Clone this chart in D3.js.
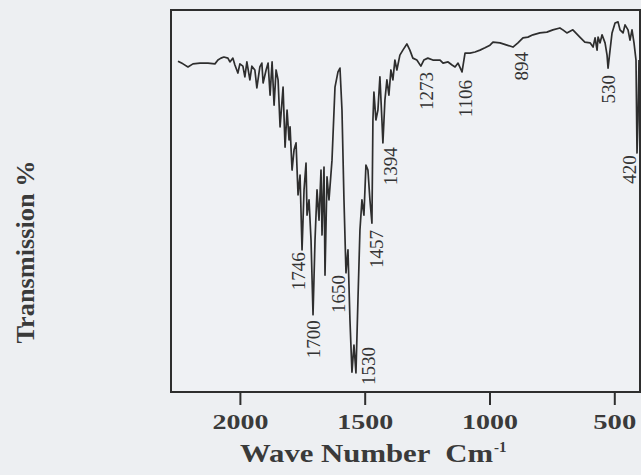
<!DOCTYPE html>
<html>
<head>
<meta charset="utf-8">
<script src="https://cdn.jsdelivr.net/npm/d3@7/dist/d3.min.js"></script>
<style>
  html, body { margin: 0; padding: 0; background: #edeff2; }
  svg { display: block; }
</style>
</head>
<body>
<svg id="chart" width="641" height="475"></svg>
<script>
// ---- Data ----
// Wavenumber (cm^-1) of each traced point
const waveNumbers = [
  2248,2228,2208,2188,2160,2128,2100,2088,2076,2064,2048,2040,2028,2020,2008,2000,
  1988,1980,1972,1960,1952,1940,1932,1920,1912,1907,1895,1887,1879,1871,1863,1855,
  1847,1839,1827,1819,1811,1803,1799,1791,1783,1775,1767,1759,1751,1743,1735,1731,
  1723,1715,1707,1699,1691,1683,1675,1671,1663,1659,1651,1643,1631,1619,1607,1599,
  1591,1583,1575,1567,1559,1551,1543,1535,1527,1519,1511,1503,1495,1487,1479,1471,
  1467,1463,1455,1447,1439,1431,1427,1419,1411,1403,1395,1387,1379,1371,1359,1347,
  1331,1319,1307,1291,1275,1263,1247,1227,1198,1186,1166,1150,1138,1126,1110,1098,
  1078,1058,1038,1018,998,986,958,930,906,886,866,846,826,798,770,746,
  718,706,690,666,638,618,597,585,577,569,565,557,549,537,529,525,
  517,509,497,485,477,465,457,445,437,429,421,413,409,405,401
];
// Transmission (%) at each point
const transmission = [
  86.6,85.9,85.1,85.9,86.1,86.1,85.9,86.9,87.4,87.7,87.4,86.4,87.4,85.6,83.5,85.9,
  85.3,82.5,86.4,81.7,85.3,84.3,79.6,85.1,86.1,80.9,84.3,86.1,77.7,86.4,75.1,84.3,
  81.7,69.4,79.8,64.1,73.8,66.0,69.4,58.1,63.4,65.2,51.6,56.8,37.2,52.9,59.9,46.3,
  50.3,39.8,20.2,39.8,52.9,45.0,58.1,41.1,58.9,30.6,56.3,50.3,60.7,79.8,83.8,84.8,
  73.8,50.3,31.2,37.2,18.8,5.2,12.3,5.0,24.1,42.4,50.3,46.3,59.4,58.1,50.3,44.2,
  71.2,78.5,71.2,73.8,82.5,71.2,65.2,76.4,81.7,77.7,84.3,81.7,86.9,84.3,88.2,89.5,
  91.1,89.5,87.4,86.9,85.3,86.9,87.4,86.9,86.9,86.1,86.4,85.6,85.1,86.1,83.8,88.7,
  88.7,89.0,89.5,90.1,90.8,91.6,91.4,90.8,90.3,91.4,92.7,92.9,93.5,94.0,94.2,94.8,
  95.3,94.8,94.0,94.8,92.9,91.6,91.4,90.3,92.7,89.5,92.9,91.4,93.5,91.4,88.2,84.8,
  89.5,94.0,96.6,96.9,94.8,94.0,96.1,94.8,92.1,94.8,91.4,86.9,62.6,71.2,86.9
];

// Peak annotations: text, wavenumber where the label sits, transmission at label top
const peakLabels = ["1746","1700","1650","1530","1457","1394","1273","1106","894","530","420"];
const peakWave   = [1767, 1707, 1607, 1487, 1455, 1399, 1254, 1098, 874, 525, 441];
const peakTop    = [36.6, 18.8, 30.6, 11.8, 42.4, 64.1, 83.8, 81.7, 89.0, 83.0, 62.0];

// Axis
const xTicks = [2000, 1500, 1000, 500];
const xDomain = [2276, 397];
const yDomain = [0, 100];
const xTitle = "Wave Number  Cm";
const xTitleSup = "-1";
const yTitle = "Transmission %";

// ---- Drawing ----
const svg = d3.select("#chart");
const plot = { left: 171, top: 10, right: 640, bottom: 392 };
const ink = "#2e2e2e";

const x = d3.scaleLinear().domain(xDomain).range([plot.left, plot.right]);
const y = d3.scaleLinear().domain(yDomain).range([plot.bottom, plot.top]);

// frame
svg.append("rect")
  .attr("x", plot.left).attr("y", plot.top)
  .attr("width", plot.right - plot.left).attr("height", plot.bottom - plot.top)
  .attr("fill", "#eff1f4").attr("stroke", ink).attr("stroke-width", 2);

// spectrum
const pts = waveNumbers.map((w, i) => [w, transmission[i]]);
const line = d3.line().x(d => x(d[0])).y(d => y(d[1]));
svg.append("path")
  .datum(pts)
  .attr("d", line)
  .attr("fill", "none")
  .attr("stroke", ink)
  .attr("stroke-width", 1.7)
  .attr("stroke-linejoin", "round");

// peak labels
svg.append("g").selectAll("text")
  .data(peakLabels)
  .join("text")
  .attr("transform", (d, i) => `translate(${x(peakWave[i])},${y(peakTop[i])}) rotate(-90)`)
  .attr("text-anchor", "end")
  .attr("dy", "0.35em")
  .attr("font-family", "'Liberation Serif', 'Times New Roman', serif")
  .attr("font-size", 19)
  .attr("fill", "#333")
  .text(d => d);

// x axis
const xAxis = d3.axisBottom(x).tickValues(xTicks).tickSize(13).tickPadding(8).tickFormat(d3.format("d"));
const gx = svg.append("g").attr("transform", `translate(0,${plot.bottom})`).call(xAxis);
gx.select(".domain").remove();
gx.selectAll(".tick line").attr("stroke", ink).attr("stroke-width", 2);
gx.selectAll(".tick text")
  .attr("font-family", "'Liberation Serif', 'Times New Roman', serif")
  .attr("font-weight", "bold")
  .attr("font-size", 22)
  .attr("fill", "#3a3a3a")
  .attr("textLength", 56)
  .attr("lengthAdjust", "spacingAndGlyphs");
gx.selectAll(".tick").filter(d => d === 500).select("text").attr("textLength", 43);

// x title
svg.append("text")
  .attr("x", 240).attr("y", 462)
  .attr("font-family", "'Liberation Serif', 'Times New Roman', serif")
  .attr("font-weight", "bold")
  .attr("font-size", 26)
  .attr("fill", "#3a3a3a")
  .attr("textLength", 253)
  .attr("lengthAdjust", "spacingAndGlyphs")
  .attr("xml:space", "preserve")
  .text(xTitle);
svg.append("text")
  .attr("x", 494).attr("y", 452)
  .attr("font-family", "'Liberation Serif', 'Times New Roman', serif")
  .attr("font-weight", "bold")
  .attr("font-size", 15)
  .attr("fill", "#3a3a3a")
  .text(xTitleSup);

// y title
svg.append("text")
  .attr("transform", "translate(25,252) rotate(-90)")
  .attr("text-anchor", "middle")
  .attr("dy", "0.35em")
  .attr("font-family", "'Liberation Serif', 'Times New Roman', serif")
  .attr("font-weight", "bold")
  .attr("font-size", 26)
  .attr("fill", "#3a3a3a")
  .attr("textLength", 183)
  .attr("lengthAdjust", "spacingAndGlyphs")
  .text(yTitle);
</script>
</body>
</html>
